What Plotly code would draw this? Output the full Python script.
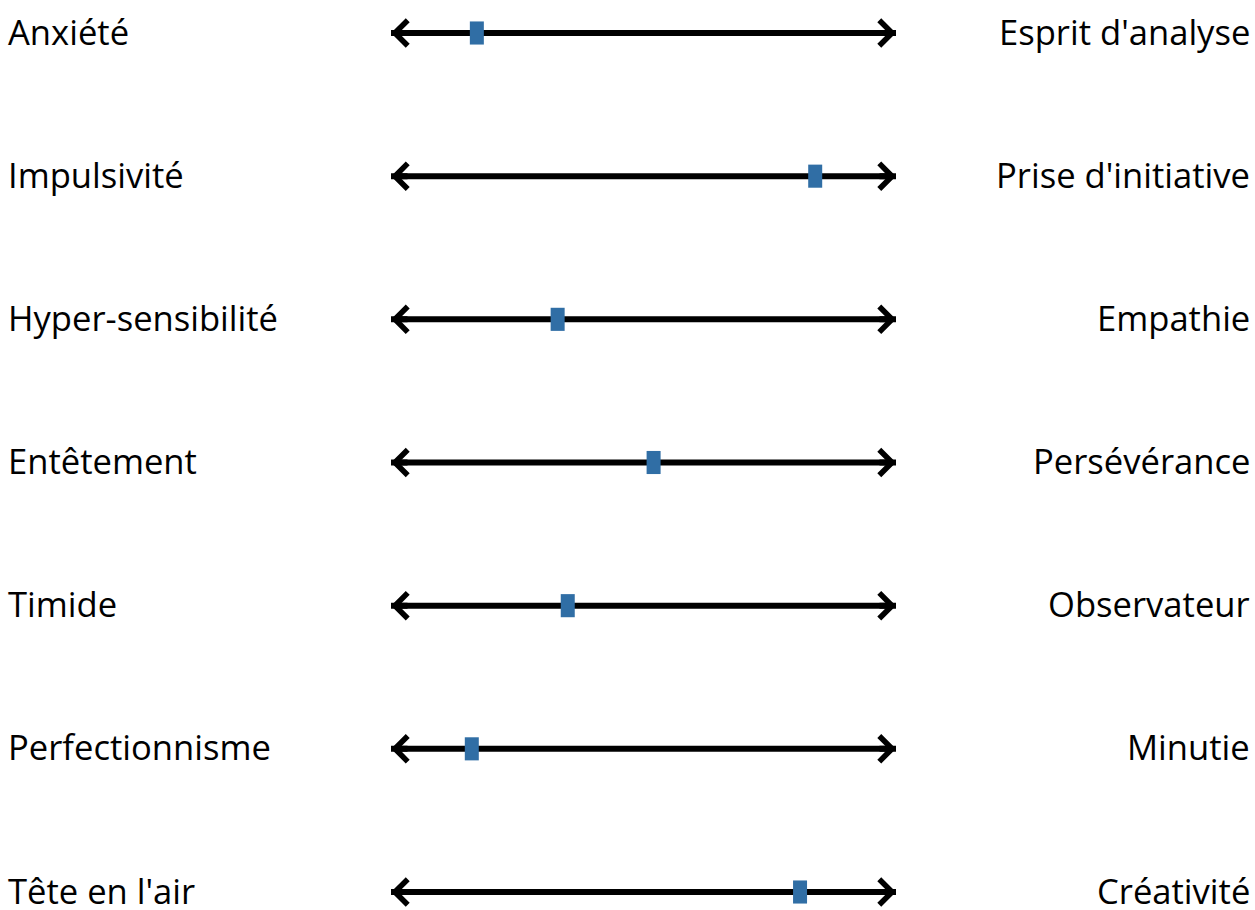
import plotly.graph_objects as go

left_labels = ["Anxiété", "Impulsivité", "Hyper-sensibilité", "Entêtement",
               "Timide", "Perfectionnisme", "Tête en l'air"]
right_labels = ["Esprit d'analyse", "Prise d'initiative", "Empathie", "Persévérance",
                "Observateur", "Minutie", "Créativité"]
scores = [17, 84, 33, 52, 35, 16, 81]
scale_min = 0
scale_max = 100

W, H = 1255, 910
n = len(left_labels)
rows = list(range(n))

# pixel layout
x0_px, x1_px = 391, 896
y0_px, y1_px = 33, 892
ppx = (x1_px - x0_px) / (scale_max - scale_min)
ppy = (y1_px - y0_px) / (n - 1)
xrange = [scale_min - x0_px / ppx, scale_max + (W - x1_px) / ppx]
yrange = [(n - 1) + (H - y1_px) / ppy, -y0_px / ppy]

fig = go.Figure()

# axis lines
lx, ly = [], []
for r in rows:
    lx += [scale_min, scale_max, None]
    ly += [r, r, None]
fig.add_trace(go.Scatter(x=lx, y=ly, mode="lines",
                         line=dict(color="black", width=6),
                         hoverinfo="skip", showlegend=False, cliponaxis=False))

# score markers
fig.add_trace(go.Scatter(x=scores, y=rows, mode="markers",
                         marker=dict(symbol="line-ns", size=16.5,
                                     line=dict(color="#306ea5", width=14)),
                         showlegend=False, cliponaxis=False))

ann = []
font = dict(family="Open Sans", size=34.6, color="black")
for r in rows:
    ann.append(dict(xref="paper", yref="y", x=0, y=r, text=left_labels[r],
                    xanchor="left", yanchor="middle", showarrow=False,
                    xshift=6, yshift=2, font=font))
    ann.append(dict(xref="paper", yref="y", x=1, y=r, text=right_labels[r],
                    xanchor="right", yanchor="middle", showarrow=False,
                    xshift=-3, yshift=2, font=font))
    for xe, d in [(scale_max, -18), (scale_min, 18)]:
        ann.append(dict(xref="x", yref="y", x=xe, y=r, ax=d, ay=0, text="",
                        showarrow=True, arrowhead=4, arrowsize=0.82,
                        arrowwidth=6, arrowcolor="black"))

fig.update_layout(
    width=W, height=H,
    margin=dict(l=0, r=0, t=0, b=0),
    paper_bgcolor="white", plot_bgcolor="white",
    xaxis=dict(range=xrange, visible=False, fixedrange=True),
    yaxis=dict(range=yrange, visible=False, fixedrange=True),
    annotations=ann,
    showlegend=False,
)

fig.write_html("out.html", config={"displayModeBar": False})

# remove default page margin so the figure fills the window exactly
with open("out.html", encoding="utf-8") as f:
    html = f.read()
html = html.replace("<head>", "<head><style>html,body{margin:0;padding:0;overflow:hidden;}</style>", 1)
with open("out.html", "w", encoding="utf-8") as f:
    f.write(html)
